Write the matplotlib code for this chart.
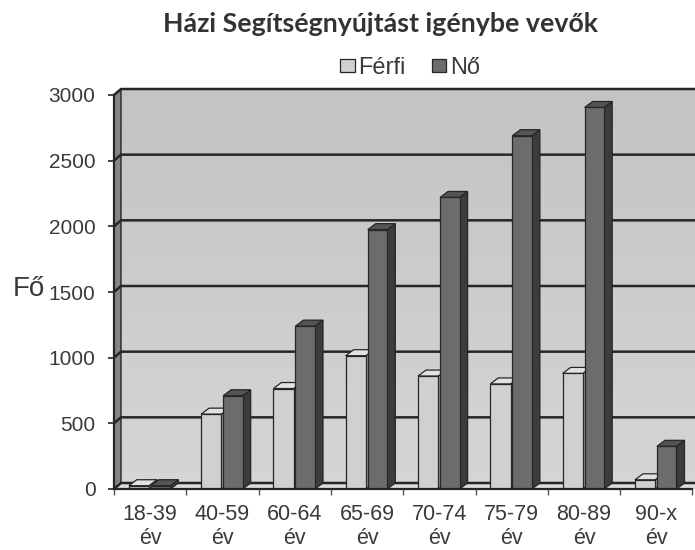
import matplotlib
matplotlib.use('Agg')
import matplotlib.pyplot as plt
from matplotlib.patches import Polygon, Patch
import numpy as np

# ---- data ----
categories = ['18-39\név', '40-59\név', '60-64\név', '65-69\név',
              '70-74\név', '75-79\név', '80-89\név', '90-x\név']
ferfi = [25, 570, 765, 1015, 860, 800, 880, 70]
no = [25, 710, 1240, 1975, 2220, 2690, 2905, 325]
series_names = ['Férfi', 'Nő']
yticks = [0, 500, 1000, 1500, 2000, 2500, 3000]
title = 'Házi Segítségnyújtást igénybe vevők'
ylabel = 'Fő'

plt.rcParams['font.family'] = ['Liberation Sans', 'DejaVu Sans']
TXT = '#3a3a3a'
EDGE = '#262626'

W, H, DPI = 695, 550, 100
fig = plt.figure(figsize=(W / DPI, H / DPI), dpi=DPI)
left_px, right_px, bot_px, top_px = 114, 692.4, 489, 95
ax = fig.add_axes([left_px / W, 1 - bot_px / H,
                   (right_px - left_px) / W, (bot_px - top_px) / H])
n = len(categories)
ymax = yticks[-1]
ax.set_xlim(-0.5, n - 0.5)
ax.set_ylim(0, ymax)
ax.set_facecolor('none')

xu = n / (right_px - left_px)      # data units per pixel (x)
yu = ymax / (bot_px - top_px)      # data units per pixel (y)
DX, DY = 7 * xu, 6 * yu            # wall depth
bdx, bdy = 8 * xu, 6 * yu          # bar depth
xr = n - 0.5 + DX + 0.3            # right end (cropped by figure)

# back wall with vertical gradient
nstrip = 40
c_top = np.array([0.765, 0.765, 0.765])
c_bot = np.array([0.835, 0.835, 0.835])
for k in range(nstrip):
    y0 = DY + ymax * k / nstrip
    y1 = DY + ymax * (k + 1) / nstrip
    t = k / (nstrip - 1)
    col = c_bot * (1 - t) + c_top * t
    ax.add_patch(Polygon([(-0.5 + DX, y0), (xr, y0), (xr, y1), (-0.5 + DX, y1)],
                         closed=True, facecolor=col, edgecolor='none',
                         zorder=0, clip_on=False))
# left wall
ax.add_patch(Polygon([(-0.5, 0), (-0.5 + DX, DY), (-0.5 + DX, ymax + DY), (-0.5, ymax)],
                     closed=True, facecolor='#858585', edgecolor=EDGE, lw=1.0,
                     zorder=0.6, clip_on=False))
# floor
ax.add_patch(Polygon([(-0.5, 0), (xr, 0), (xr, DY), (-0.5 + DX, DY)],
                     closed=True, facecolor='#dcdcdc', edgecolor='none',
                     zorder=0.5, clip_on=False))

# gridlines on the back wall
for v in yticks:
    ax.plot([-0.5, -0.5 + DX, xr], [v, v + DY, v + DY], color=EDGE,
            lw=1.8, zorder=1, clip_on=False, solid_capstyle='butt')

# bars
x = np.arange(n)
specs = [
    (ferfi, -0.155, 0.28, '#d0d0d0', '#e2e2e2', '#9a9a9a', 3),
    (no, 0.145, 0.27, '#6c6c6c', '#545454', '#3c3c3c', 5),
]
handles = []
for vals, off, w, cf, ct, cs, z in specs:
    for xi, v in zip(x, vals):
        x0 = xi + off - w / 2
        x1 = xi + off + w / 2
        ax.add_patch(Polygon([(x1, 0), (x1 + bdx, bdy), (x1 + bdx, v + bdy), (x1, v)],
                             closed=True, facecolor=cs, edgecolor=EDGE, lw=0.9, zorder=z))
        ax.add_patch(Polygon([(x0, v), (x1, v), (x1 + bdx, v + bdy), (x0 + bdx, v + bdy)],
                             closed=True, facecolor=ct, edgecolor=EDGE, lw=0.9, zorder=z))
    b = ax.bar(x + off, vals, width=w, color=cf, edgecolor=EDGE, lw=0.9, zorder=z + 1)
    handles.append(b)

# axes styling
for s in ['top', 'right']:
    ax.spines[s].set_visible(False)
for s in ['left', 'bottom']:
    ax.spines[s].set_color(EDGE)
    ax.spines[s].set_linewidth(1.6)
    ax.spines[s].set_zorder(8)

ax.set_yticks(yticks)
ax.set_yticklabels([str(v) for v in yticks])
ax.tick_params(axis='y', length=4.3, width=1.2, color=EDGE, pad=9,
               labelsize=15, labelcolor=TXT)
ax.set_xticks(x)
ax.set_xticklabels(categories)
ax.set_xticks(np.arange(n + 1) - 0.5, minor=True)
ax.tick_params(axis='x', which='major', length=0, pad=11, labelsize=15.5, labelcolor=TXT)
ax.tick_params(axis='x', which='minor', length=4.3, width=1.0, color='#555555')

fig.text(13 / W, 1 - 296 / H, ylabel, fontsize=20, color=TXT, ha='left', va='baseline')
fig.text(381 / W, 1 - 32 / H, title, fontsize=19.3, fontweight='bold', family='Lato',
         color='#333333', ha='center', va='baseline')

fig.legend(handles, series_names, loc='center', bbox_to_anchor=(410 / W, 1 - 68 / H),
           ncol=2, frameon=False, fontsize=17, handlelength=0.62, handleheight=0.5,
           handletextpad=0.15, columnspacing=1.1, labelcolor=TXT)

fig.savefig('out.png', dpi=DPI)
